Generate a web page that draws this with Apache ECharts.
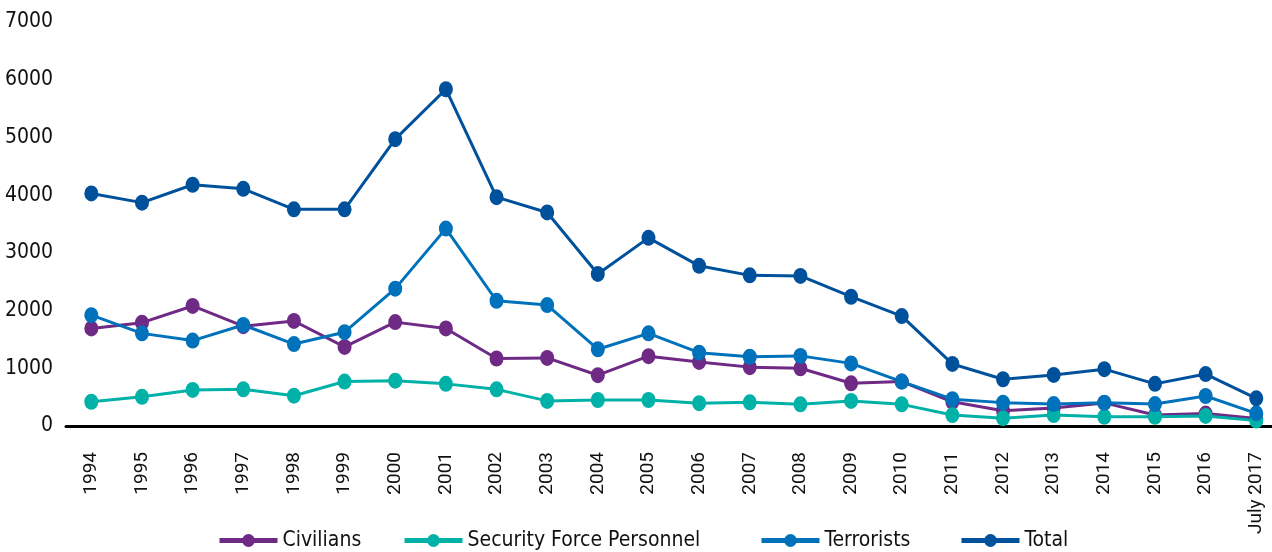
<!doctype html>
<html lang="en">
<head>
    <meta charset="UTF-8">
    <title>Fatalities</title>
    <script src="https://cdn.jsdelivr.net/npm/echarts@6/dist/echarts.min.js"></script>
    <style>
        html, body { margin: 0; padding: 0; background: #fff; }
        #main { width: 1272px; height: 552px; }
    </style>
</head>
<body>
<div id="main"></div>
<script type="text/javascript">
// years on the x axis
var years = ['1994', '1995', '1996', '1997', '1998', '1999', '2000', '2001', '2002', '2003',
    '2004', '2005', '2006', '2007', '2008', '2009', '2010', '2011', '2012', '2013',
    '2014', '2015', '2016', 'July 2017'];

// values
var civilians = [1690, 1790, 2080, 1730, 1820, 1370, 1800, 1690, 1170, 1180,
    880, 1210, 1110, 1020, 1000, 740, 770, 420, 265, 310,
    400, 190, 215, 130];
var security = [420, 505, 625, 635, 525, 770, 785, 730, 635, 435,
    450, 450, 395, 410, 375, 435, 375, 190, 135, 190,
    160, 160, 175, 95];
var terrorists = [1920, 1605, 1480, 1750, 1420, 1625, 2380, 3420, 2170, 2095,
    1330, 1605, 1270, 1200, 1215, 1085, 770, 465, 405, 380,
    405, 380, 520, 220];
var total = [4030, 3870, 4180, 4110, 3755, 3755, 4970, 5835, 3965, 3700,
    2635, 3260, 2775, 2610, 2600, 2240, 1905, 1075, 810, 885,
    985, 730, 900, 480];

var yTicks = [0, 1000, 2000, 3000, 4000, 5000, 6000, 7000];

var names = ['Civilians', 'Security Force Personnel', 'Terrorists', 'Total'];
var colors = ['#6E2A85', '#00B1A8', '#0072BC', '#00519B'];
var legendLeft = [217, 402, 759, 959];

var narrow = "'Liberation Sans Narrow', 'DejaVu Sans Condensed', sans-serif";

function makeSeries(name, data, color) {
    return {
        name: name,
        type: 'line',
        data: data,
        symbol: 'circle',
        symbolSize: [14, 16],
        itemStyle: { color: color },
        lineStyle: { color: color, width: 3 },
        emphasis: { disabled: true },
        animation: false
    };
}

var legends = [];
for (var i = 0; i < names.length; i++) {
    legends.push({
        data: [names[i]],
        left: legendLeft[i],
        top: 530,
        padding: 0,
        itemWidth: 58,
        itemHeight: 16,
        itemGap: 5,
        selectedMode: false,
        lineStyle: { width: 5 },
        textStyle: { fontFamily: narrow, fontSize: 21, color: '#111' }
    });
}

var myChart = echarts.init(document.getElementById('main'));

var option = {
    backgroundColor: '#fff',
    color: colors,
    legend: legends,
    grid: {
        left: 66,
        top: 22,
        width: 1215.6,
        height: 404,
        containLabel: false,
        outerBoundsMode: 'none'
    },
    xAxis: {
        type: 'category',
        data: years,
        boundaryGap: true,
        axisLine: { show: true, lineStyle: { color: '#000', width: 3 } },
        axisTick: { show: false },
        axisLabel: {
            rotate: 90,
            interval: 0,
            margin: 26,
            fontFamily: 'Roboto, sans-serif',
            fontSize: 19,
            color: '#111'
        },
        splitLine: { show: false }
    },
    yAxis: {
        type: 'value',
        min: yTicks[0],
        max: yTicks[yTicks.length - 1],
        interval: 1000,
        axisLine: { show: false },
        axisTick: { show: false },
        splitLine: { show: false },
        axisLabel: {
            margin: 13,
            fontFamily: narrow,
            fontSize: 21,
            color: '#111',
            formatter: function (v) { return String(v); }
        }
    },
    series: [
        makeSeries(names[0], civilians, colors[0]),
        makeSeries(names[1], security, colors[1]),
        makeSeries(names[2], terrorists, colors[2]),
        makeSeries(names[3], total, colors[3])
    ]
};

myChart.setOption(option);
</script>
</body>
</html>
